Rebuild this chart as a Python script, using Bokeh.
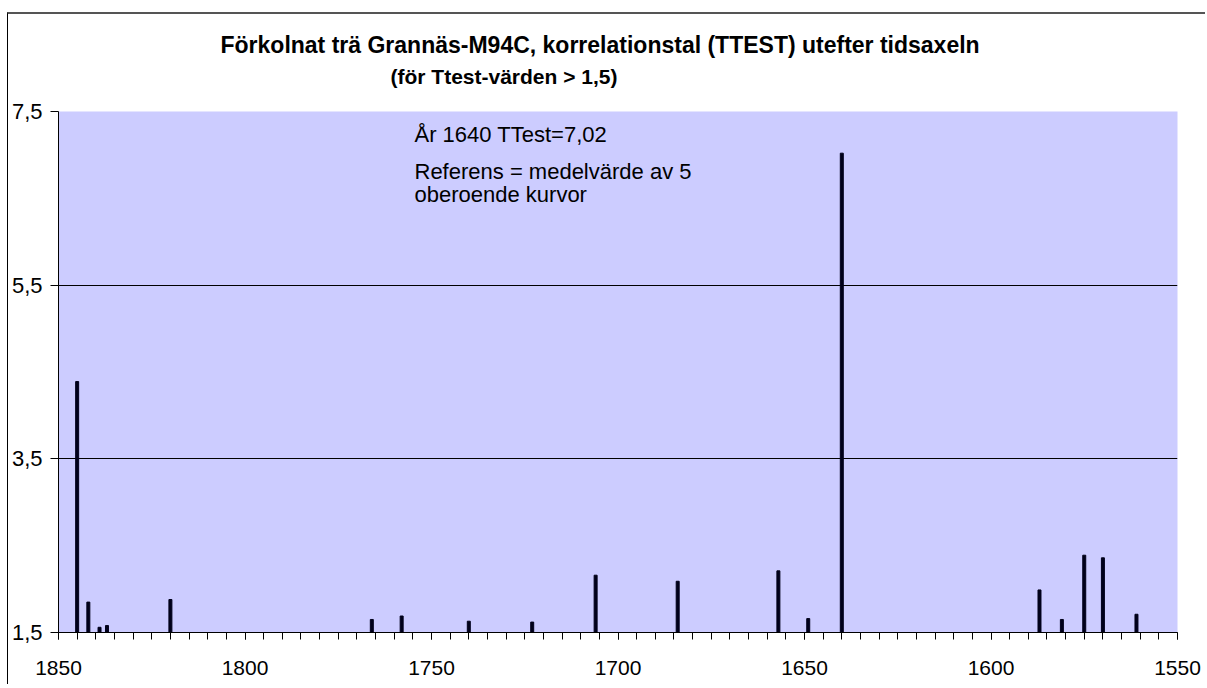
from bokeh.plotting import figure
from bokeh.models import Range1d, Label, SingleIntervalTicker, FixedTicker, ColumnDataSource, Title
from bokeh.embed import file_html
from bokeh.resources import INLINE

# --- data ---
years = [1845, 1842, 1839, 1837, 1820, 1766, 1758, 1740, 1723, 1706,
         1684, 1657, 1649, 1640, 1587, 1581, 1575, 1570, 1561]
ttest = [4.39, 1.85, 1.56, 1.58, 1.88, 1.65, 1.69, 1.63, 1.62, 2.16,
         2.09, 2.21, 1.66, 7.02, 1.99, 1.65, 2.39, 2.36, 1.71]
y_ticks = [1.5, 3.5, 5.5, 7.5]
y_tick_labels = ["1,5", "3,5", "5,5", "7,5"]
title_text = "Förkolnat trä Grannäs-M94C, korrelationstal (TTEST) utefter tidsaxeln"
subtitle_text = "(för Ttest-värden > 1,5)"
note_lines = ["År 1640 TTest=7,02", "Referens = medelvärde av 5", "oberoende kurvor"]

FONT = "Liberation Sans"

src = ColumnDataSource(dict(year=years, value=ttest))

p = figure(width=1198, height=672, x_range=Range1d(1850, 1550), y_range=Range1d(1.5, 7.5),
           output_backend="svg", toolbar_location=None,
           min_border_left=50, min_border_right=29, min_border_top=97, min_border_bottom=54)
p.background_fill_color = "#CCCCFF"
p.border_fill_color = "white"
p.outline_line_color = None
p.styles = {"margin-left": "7px", "margin-top": "12px",
            "border-left": "1px solid #000000", "border-top": "2px solid #555555"}

p.vbar(x="year", top="value", bottom=1.5, width=0.8, color="#00001a", source=src)

# titles: subtitle first (closest to the plot), main title above it
p.add_layout(Title(text=subtitle_text, align="left", offset=332, standoff=47,
                   text_font=FONT, text_font_size="21px", text_font_style="bold",
                   text_color="black"), "above")
p.add_layout(Title(text=title_text, align="left", offset=162, standoff=-36,
                   text_font=FONT, text_font_size="23px", text_font_style="bold",
                   text_color="black"), "above")

# x axis
xa = p.xaxis[0]
xa.ticker = SingleIntervalTicker(interval=50, num_minor_ticks=10)
xa.axis_line_color = "black"
xa.major_tick_line_color = "black"
xa.minor_tick_line_color = "black"
xa.major_tick_in = 0
xa.major_tick_out = 7
xa.minor_tick_in = 0
xa.minor_tick_out = 7
xa.major_label_text_font = FONT
xa.major_label_text_font_size = "21px"
xa.major_label_text_color = "black"
xa.major_label_standoff = 21

# y axis
ya = p.yaxis[0]
ya.ticker = FixedTicker(ticks=y_ticks)
ya.major_label_overrides = {t: l for t, l in zip(y_ticks, y_tick_labels)}
ya.axis_line_color = "black"
ya.major_tick_line_color = "black"
ya.minor_tick_line_color = None
ya.major_tick_in = 0
ya.major_tick_out = 8
ya.major_label_text_font = FONT
ya.major_label_text_font_size = "22px"
ya.major_label_text_color = "black"
ya.major_label_standoff = 8

p.xgrid.visible = False
p.ygrid.ticker = FixedTicker(ticks=[3.5, 5.5])
p.ygrid.grid_line_color = "black"
p.ygrid.grid_line_alpha = 1.0
p.ygrid.grid_line_width = 1

note_y = [498, 461, 438]
for line, yy in zip(note_lines, note_y):
    p.add_layout(Label(x=356, y=yy, x_units="screen", y_units="screen", text=line,
                       text_align="left", text_baseline="alphabetic", text_font=FONT,
                       text_font_size="22px", text_color="black"))

open("out.html", "w").write(file_html(p, INLINE))
